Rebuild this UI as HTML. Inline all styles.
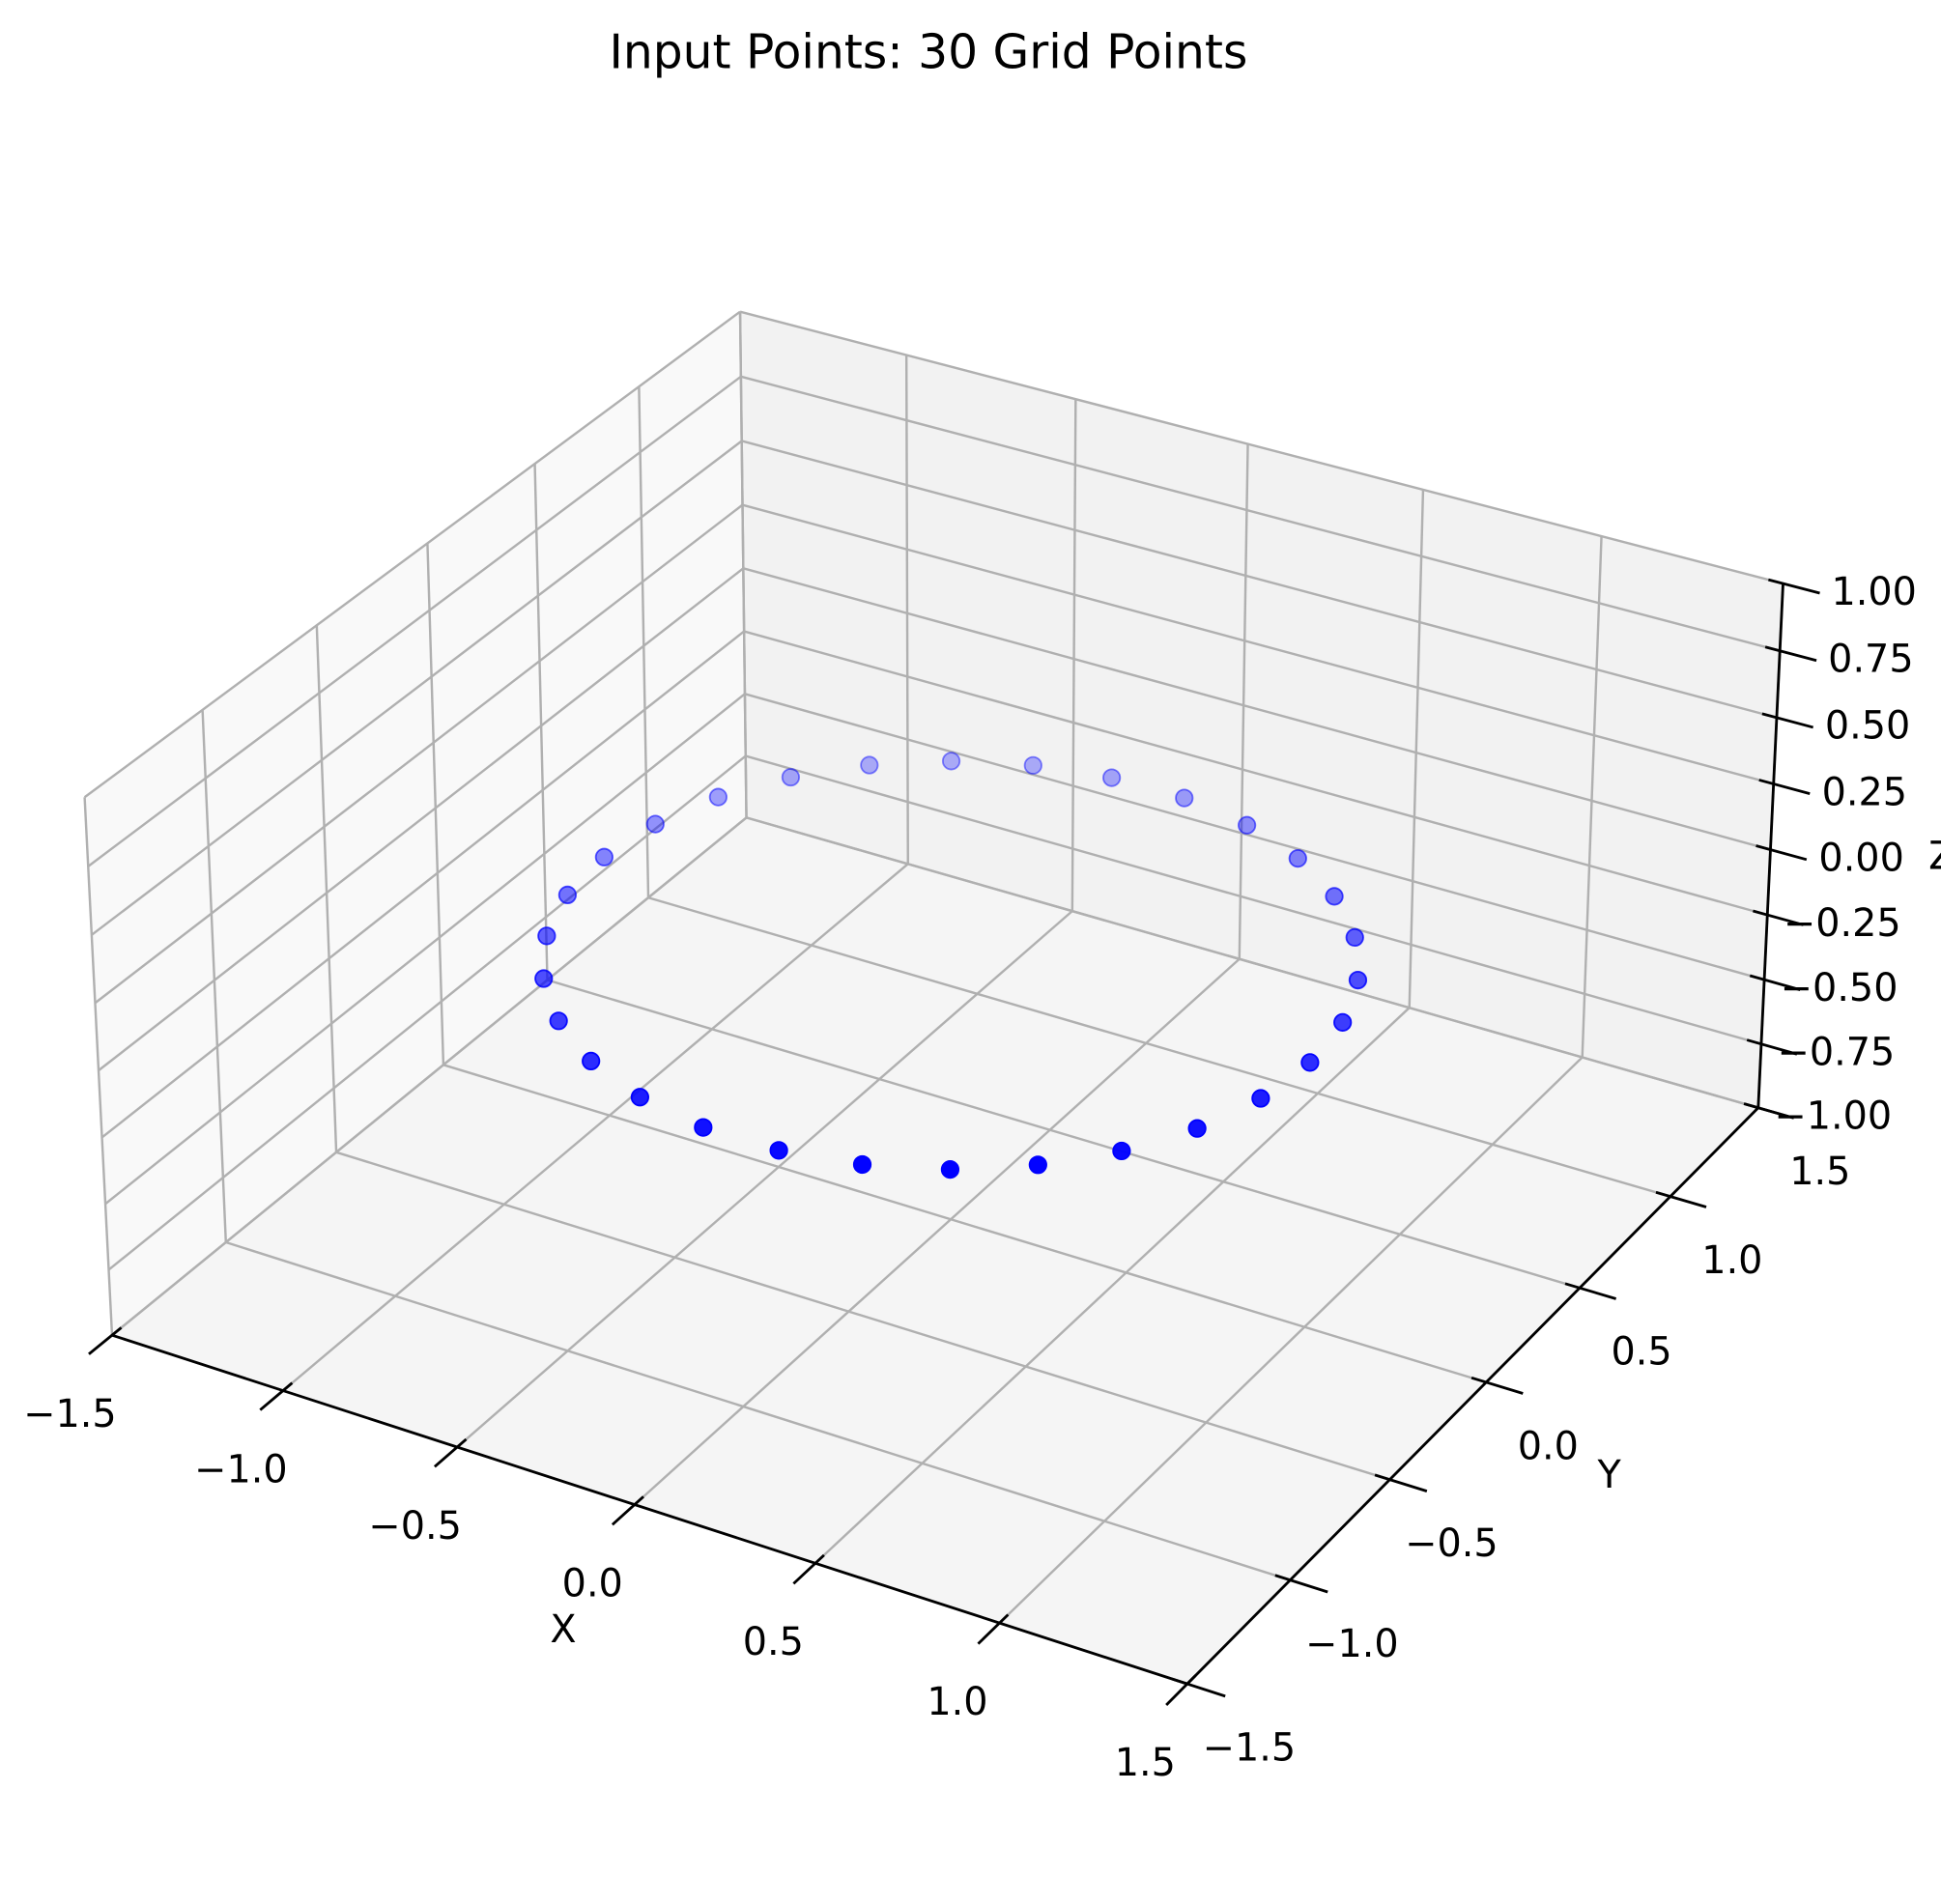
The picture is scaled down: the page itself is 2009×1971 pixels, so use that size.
<!DOCTYPE html>
<html><head><meta charset="utf-8"><style>
html,body{margin:0;padding:0;background:#fff;}
svg{display:block;font-family:"DejaVu Sans","Liberation Sans",sans-serif;}
</style></head><body>
<svg id="chart" width="2009" height="1971" viewBox="0 0 1568 1538.4" xmlns="http://www.w3.org/2000/svg">
<rect width="1568" height="1538.4" fill="#fff"/>
<text x="750" y="55" font-size="38" text-anchor="middle" fill="#000">Input Points: 30 Grid Points</text>
<g id="panes"></g>
<g id="grid"></g>
<g id="axes"></g>
<g id="pts"></g>
<text x="455" y="1327" font-size="31" text-anchor="middle">X</text>
<text x="1300" y="1202" font-size="31" text-anchor="middle">Y</text>
<text x="1558" y="702" font-size="31">Z</text>
</svg>
<script>
const xTicks = [-1.5,-1.0,-0.5,0.0,0.5,1.0,1.5];
const yTicks = [-1.5,-1.0,-0.5,0.0,0.5,1.0,1.5];
const zTicks = [-1.0,-0.75,-0.5,-0.25,0.0,0.25,0.5,0.75,1.0];
const xTickLabels = ["\u22121.5","\u22121.0","\u22120.5","0.0","0.5","1.0","1.5"];
const yTickLabels = ["\u22121.5","\u22121.0","\u22120.5","0.0","0.5","1.0","1.5"];
const zTickLabels = ["\u22121.00","\u22120.75","\u22120.50","\u22120.25","0.00","0.25","0.50","0.75","1.00"];
const pointX = [0.105,0.309,0.5,0.669,0.809,0.914,0.978,1,0.978,0.914,0.809,0.669,0.5,0.309,0.105,-0.105,-0.309,-0.5,-0.669,-0.809,-0.914,-0.978,-1,-0.978,-0.914,-0.809,-0.669,-0.5,-0.309,-0.105];
const pointY = [-0.995,-0.951,-0.866,-0.743,-0.588,-0.407,-0.208,0,0.208,0.407,0.588,0.743,0.866,0.951,0.995,0.995,0.951,0.866,0.743,0.588,0.407,0.208,0,-0.208,-0.407,-0.588,-0.743,-0.866,-0.951,-0.995];
const pointZ = [0,0,0,0,0,0,0,0,0,0,0,0,0,0,0,0,0,0,0,0,0,0,0,0,0,0,0,0,0,0];

const cal = [
 [-1.5,-1.5,-1, 90,1078],[1.5,-1.5,-1, 960,1360],[1.5,1.5,-1,1420,897],[-1.5,1.5,-1,603,660],
 [-1.5,-1.5,1, 68,645.5],[-1.5,1.5,1,598.6,252],[1.5,1.5,1,1440,470]];
function solveP(){
  const A=[],b=[];
  cal.forEach(c=>{const [X,Y,Z,u,v]=c;
    A.push([X,Y,Z,1,0,0,0,0,-u*X,-u*Y,-u*Z]);b.push(u);
    A.push([0,0,0,0,X,Y,Z,1,-v*X,-v*Y,-v*Z]);b.push(v);});
  const n=11,M=[];
  for(let i=0;i<n;i++){M.push([]);for(let j=0;j<=n;j++){let s=0;for(let k=0;k<A.length;k++)s+=A[k][i]*(j<n?A[k][j]:b[k]);M[i].push(s);}}
  for(let i=0;i<n;i++){let p=i;for(let r=i+1;r<n;r++)if(Math.abs(M[r][i])>Math.abs(M[p][i]))p=r;
    [M[i],M[p]]=[M[p],M[i]];
    for(let r=0;r<n;r++){if(r===i)continue;const f=M[r][i]/M[i][i];for(let j=i;j<=n;j++)M[r][j]-=f*M[i][j];}}
  return M.map((r,i)=>r[n]/r[i]);
}
const P=solveP();
function proj(X,Y,Z){const w=P[8]*X+P[9]*Y+P[10]*Z+1;
  return [(P[0]*X+P[1]*Y+P[2]*Z+P[3])/w,(P[4]*X+P[5]*Y+P[6]*Z+P[7])/w];}
const NS="http://www.w3.org/2000/svg";
function mk(tag,attrs,parent){const e=document.createElementNS(NS,tag);for(const k in attrs)e.setAttribute(k,attrs[k]);parent.appendChild(e);return e;}
function line(p,q,parent,color,w){return mk('line',{x1:p[0],y1:p[1],x2:q[0],y2:q[1],stroke:color,'stroke-width':w},parent);}
const L=-1.5,H=1.5,ZL=-1,ZH=1;
const panes=document.getElementById('panes');
function poly(pts,fill,name){const e=mk('polygon',{points:pts.map(p=>proj(...p).join(',')).join(' '),fill:fill},panes);
  
  }
poly([[L,L,ZL],[H,L,ZL],[H,H,ZL],[L,H,ZL]],'#f5f5f5','floor-pane');
poly([[L,H,ZL],[H,H,ZL],[H,H,ZH],[L,H,ZH]],'#f2f2f2','back-pane');
poly([[L,L,ZL],[L,H,ZL],[L,H,ZH],[L,L,ZH]],'#f9f9f9','side-pane');
const grid=document.getElementById('grid');
const GC='#b0b0b0',GW=1.9;
xTicks.forEach(x=>{
  let e=line(proj(x,L,ZL),proj(x,H,ZL),grid,GC,GW);
  
  
  e=line(proj(x,H,ZL),proj(x,H,ZH),grid,GC,GW);
  
  
});
yTicks.forEach(y=>{
  let e=line(proj(L,y,ZL),proj(H,y,ZL),grid,GC,GW);
  
  
  e=line(proj(L,y,ZL),proj(L,y,ZH),grid,GC,GW);
  
  
});
zTicks.forEach(z=>{
  let e=line(proj(L,H,z),proj(H,H,z),grid,GC,GW);
  
  
  e=line(proj(L,L,z),proj(L,H,z),grid,GC,GW);
  
  
});
const axes=document.getElementById('axes');
function txt(s,p,anchor,parent){const t=mk('text',{x:p[0],y:p[1],'font-size':31,'text-anchor':anchor,fill:'#000'},parent);t.textContent=s;return t;}
const AW=2.2;
let ax=line(proj(L,L,ZL),proj(H,L,ZL),axes,'#000',AW);


ax=line(proj(H,L,ZL),proj(H,H,ZL),axes,'#000',AW);


ax=line(proj(H,H,ZL),proj(H,H,ZH),axes,'#000',AW);


xTicks.forEach((x,i)=>{
  const e=line(proj(x,L+0.04,ZL),proj(x,L-0.1,ZL),axes,'#000',AW);
  
  
  const p=proj(x,L,ZL);
  const t=txt(xTickLabels[i],[p[0]-34,p[1]+74],'middle',axes);
  
  
});
yTicks.forEach((y,i)=>{
  const e=line(proj(H-0.04,y,ZL),proj(H+0.1,y,ZL),axes,'#000',AW);
  
  
  const p=proj(H,y,ZL);
  const t=txt(yTickLabels[i],[p[0]+50,p[1]+62],'middle',axes);
  
  
});
zTicks.forEach((z,i)=>{
  const e=line(proj(H-0.04,H,z),proj(H+0.1,H,z),axes,'#000',AW);
  
  
  const p=proj(H,H,z);
  const t=txt(zTickLabels[i],[p[0]+108,p[1]+17],'end',axes);
  
  
});
const ptsG=document.getElementById('pts');
const depth=pointX.map((x,i)=>0.5*x-0.866*pointY[i]);
const dmin=Math.min(...depth),dmax=Math.max(...depth);
const order=pointX.map((_,i)=>i).sort((a,b)=>depth[a]-depth[b]);
order.forEach(i=>{
  const p=proj(pointX[i],pointY[i],pointZ[i]);
  const a=0.3+0.7*(depth[i]-dmin)/(dmax-dmin);
  const c=mk('circle',{cx:p[0],cy:p[1],r:6.8,fill:'#0000ff','fill-opacity':a,stroke:'#0000ff','stroke-opacity':Math.min(1,a+0.15),'stroke-width':1.4},ptsG);
  
  
});
</script>
</body></html>
